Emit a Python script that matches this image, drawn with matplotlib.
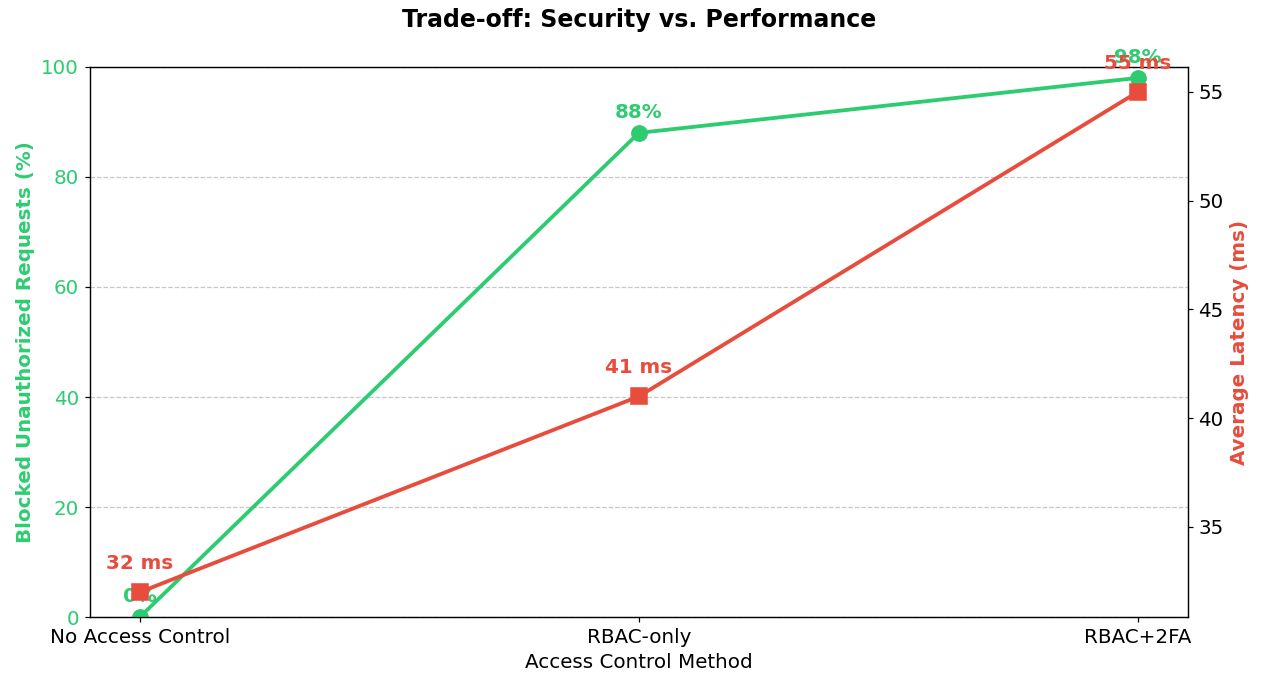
import numpy as np
import matplotlib.pyplot as plt

# data
methods = ["No Access Control", "RBAC-only", "RBAC+2FA"]
blocked_pct = [0, 88, 98]
latency_ms = [32, 41, 55]

green = "#2ecc71"
red = "#e74c3c"

fig, ax1 = plt.subplots(figsize=(11.5, 6.2), dpi=110)
x = np.arange(len(methods))

ax1.plot(x, blocked_pct, color=green, marker="o", markersize=10, linewidth=2.5, zorder=3)
ax1.set_xlabel("Access Control Method", fontsize=13)
ax1.set_ylabel("Blocked Unauthorized Requests (%)", color=green, fontsize=13, fontweight="bold")
ax1.tick_params(axis="y", labelcolor=green, labelsize=13)
ax1.tick_params(axis="x", labelsize=13)
ax1.set_ylim(0, 100)
ax1.set_xticks(x)
ax1.set_xticklabels(methods)
ax1.grid(axis="y", linestyle="--", alpha=0.7)

for xi, v in zip(x, blocked_pct):
    ax1.annotate(f"{v}%", (xi, v), textcoords="offset points", xytext=(0, 10),
                 ha="center", color=green, fontsize=13, fontweight="bold")

ax2 = ax1.twinx()
ax2.plot(x, latency_ms, color=red, marker="s", markersize=10, linewidth=2.5)
ax2.set_ylabel("Average Latency (ms)", color=red, fontsize=13, fontweight="bold")
ax2.tick_params(axis="y", labelsize=13)

for xi, v in zip(x, latency_ms):
    ax2.annotate(f"{v} ms", (xi, v), textcoords="offset points", xytext=(0, 15),
                 ha="center", color=red, fontsize=13, fontweight="bold")

plt.title("Trade-off: Security vs. Performance", fontsize=15.5, fontweight="bold", pad=26)
fig.subplots_adjust(left=0.071, right=0.939, top=0.902, bottom=0.095)
plt.savefig("out.png")
